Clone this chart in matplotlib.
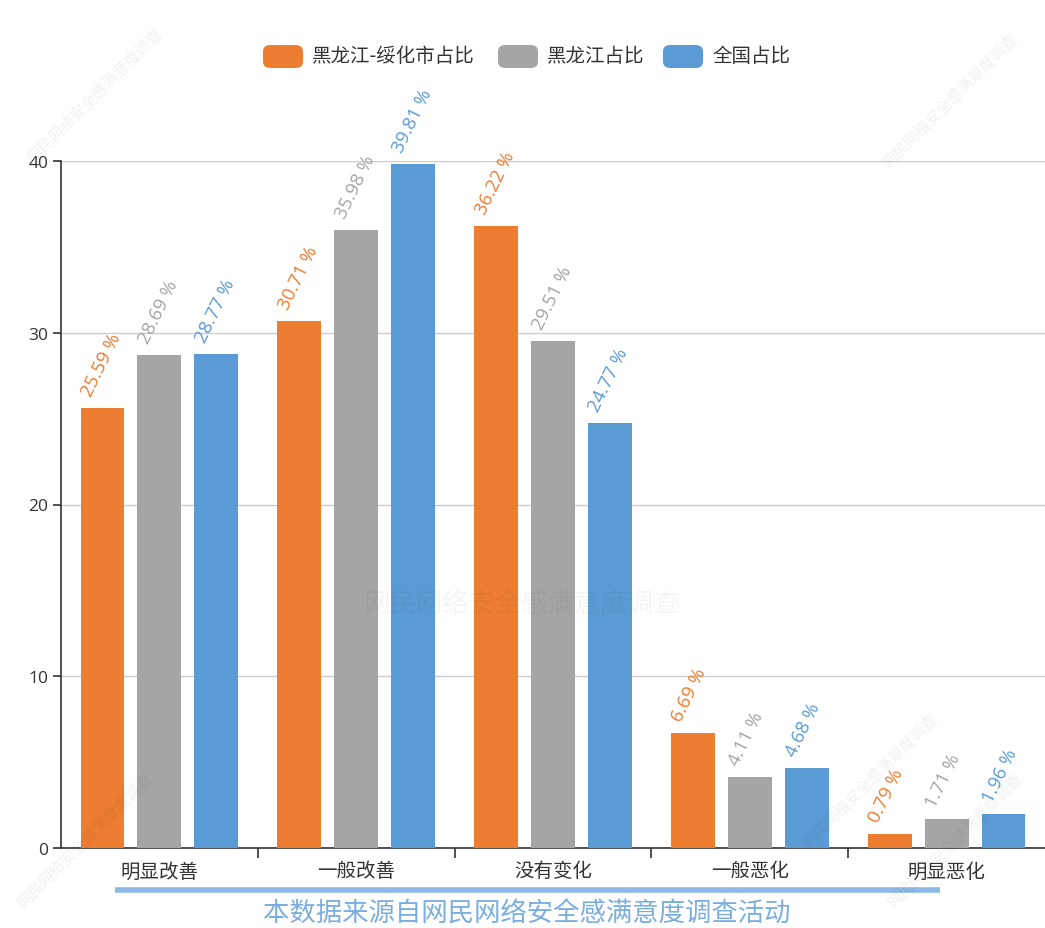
import matplotlib
matplotlib.use("Agg")
import matplotlib.pyplot as plt
from matplotlib.patches import FancyBboxPatch
import numpy as np

plt.rcParams['font.family'] = ['Noto Sans CJK SC', 'DejaVu Sans']

categories = ['明显改善', '一般改善', '没有变化', '一般恶化', '明显恶化']
series_names = ['黑龙江-绥化市占比', '黑龙江占比', '全国占比']
suihua = [25.59, 30.71, 36.22, 6.69, 0.79]
heilongjiang = [28.69, 35.98, 29.51, 4.11, 1.71]
national = [28.77, 39.81, 24.77, 4.68, 1.96]
colors = ['#ED7D31', '#A5A5A5', '#5B9BD5']
yticks = [0, 10, 20, 30, 40]
source_text = '本数据来源自网民网络安全感满意度调查活动'
watermark = '网民网络安全感满意度调查'

LATIN = ['Open Sans', 'Noto Sans CJK SC']

W, H = 1045, 929
fig = plt.figure(figsize=(W / 100, H / 100), dpi=100)
ax = fig.add_axes([61 / W, (H - 849) / H, (1045 - 61) / W, (849 - 162) / H])

x = np.arange(len(categories))
bw = 0.223
off = 0.289
all_series = [suihua, heilongjiang, national]
for i, (vals, c) in enumerate(zip(all_series, colors)):
    xs = x + (i - 1) * off
    ax.bar(xs, vals, width=bw, color=c, zorder=3)
    for xi, v in zip(xs, vals):
        ax.annotate(f'{v:.2f} %', xy=(xi, v), xytext=(-11.5, 9.5),
                    textcoords='offset points', rotation=64,
                    rotation_mode='anchor', ha='left', va='center',
                    fontsize=13.5, color=c, zorder=4, family=LATIN)

ax.set_xlim(-0.5, 4.5)
ax.set_ylim(0, 40)
ax.set_yticks(yticks)
ax.set_yticklabels([str(t) for t in yticks], fontsize=12.5, color='#333333',
                   family=LATIN)
ax.tick_params(axis='y', length=6, width=1.2, color='#333333', pad=3)
ax.yaxis.grid(True, color='#cccccc', linewidth=1, zorder=0)
ax.set_axisbelow(True)

ax.set_xticks([0.5, 1.5, 2.5, 3.5])
ax.set_xticklabels([])
ax.tick_params(axis='x', which='major', length=7, width=1.2, color='#333333', direction='out')
ax.set_xticks(x, minor=True)
ax.set_xticklabels(categories, minor=True, fontsize=14, color='#333333')
ax.tick_params(axis='x', which='minor', length=0, pad=9)

for s in ['top', 'right']:
    ax.spines[s].set_visible(False)
ax.spines['left'].set_color('#333333')
ax.spines['left'].set_linewidth(1.2)
ax.spines['bottom'].set_color('#333333')
ax.spines['bottom'].set_linewidth(1.2)

# Legend (custom, rounded boxes)
legend_items = [(263, series_names[0]), (498, series_names[1]), (663, series_names[2])]
for (lx, name), c in zip(legend_items, colors):
    box = FancyBboxPatch((lx / W, (H - 69) / H), 40 / W, 23 / H,
                         boxstyle='round,pad=0,rounding_size=0.007',
                         transform=fig.transFigure, facecolor=c, edgecolor='none')
    fig.patches.append(box)
    fig.text((lx + 49) / W, (H - 57) / H, name, fontsize=14, color='#333333',
             ha='left', va='center')

# bottom source line and text
fig.add_artist(plt.Line2D([115 / W, 940 / W], [(H - 891) / H, (H - 891) / H],
                          transform=fig.transFigure, color='#8DB9E6', linewidth=4,
                          solid_capstyle='butt'))
fig.text(527 / W, (H - 914) / H, source_text, fontsize=19, color='#7AAEE0',
         ha='center', va='center')

# faint watermarks
fig.text(522 / W, (H - 605) / H, watermark, fontsize=19, color='#000000', alpha=0.04,
         ha='center', va='center')
for (wx, wy) in [(95, 95), (950, 100), (85, 840), (955, 840), (870, 780)]:
    fig.text(wx / W, (H - wy) / H, watermark, fontsize=11, color='#000000', alpha=0.06,
             ha='center', va='center', rotation=45)

fig.savefig('out.png', dpi=100, facecolor='white')
